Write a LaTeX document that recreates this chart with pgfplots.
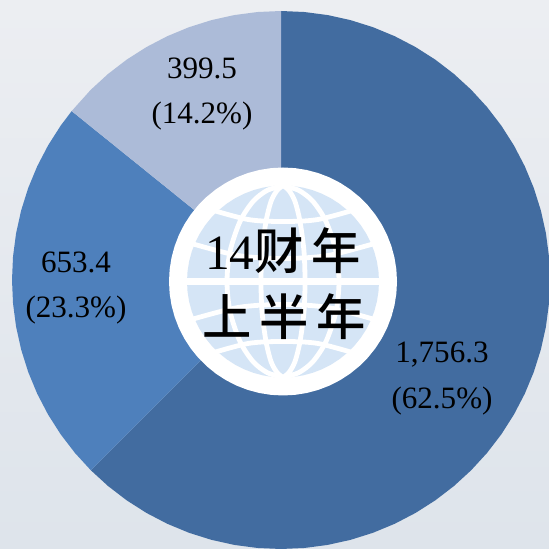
\documentclass[border=0pt]{standalone}
\usepackage{pgfplots}
\pgfplotsset{compat=1.18}
\usepackage{fontspec}
\setmainfont{Liberation Serif}
\newfontfamily\cjk{Noto Sans CJK SC}[BoldFont={Noto Sans CJK SC Medium}]
\definecolor{cDark}{HTML}{426CA0}
\definecolor{cMid}{HTML}{4E80BC}
\definecolor{cLight}{HTML}{ACBBD8}
\definecolor{cGlobe}{HTML}{D5E5F6}
\definecolor{bgTop}{HTML}{ECEEF2}
\definecolor{bgBot}{HTML}{DEE4EB}
\pgfplotsset{base/.style={width=411.75pt,height=411.75pt,scale only axis,hide axis,clip=true}}
\begin{document}
\begin{tikzpicture}
\begin{axis}[base,at={(0,0)},anchor=south west,xmin=-281,xmax=268,ymin=-269,ymax=280]
% background
\addplot[draw=none,top color=bgTop,bottom color=bgBot] coordinates {(-281,-269)(268,-269)(268,280)(-281,280)} -- cycle;
% 1,756.3 (62.5%)
\addplot[data cs=polar,draw=none,fill=cDark] coordinates {(0,0)(90,269)(85,269)(80,269)(75,269)(70,269)(65,269)(60,269)(55,269)(50,269)(45,269)(40,269)(35,269)(30,269)(25,269)(20,269)(15,269)(10,269)(5,269)(0,269)(-5,269)(-10,269)(-15,269)(-20,269)(-25,269)(-30,269)(-35,269)(-40,269)(-45,269)(-50,269)(-55,269)(-60,269)(-65,269)(-70,269)(-75,269)(-80,269)(-85,269)(-90,269)(-95,269)(-100,269)(-105,269)(-110,269)(-115,269)(-120,269)(-125,269)(-130,269)(-135,269)} -- cycle;
% 653.4 (23.3%)
\addplot[data cs=polar,draw=none,fill=cMid] coordinates {(0,0)(-135,269)(-140,269)(-145,269)(-150,269)(-155,269)(-160,269)(-165,269)(-170,269)(-175,269)(-180,269)(-185,269)(-190,269)(-195,269)(-200,269)(-205,269)(-210,269)(-215,269)(-218.9,269)} -- cycle;
% 399.5 (14.2%)
\addplot[data cs=polar,draw=none,fill=cLight] coordinates {(0,0)(-218.9,269)(-225,269)(-230,269)(-235,269)(-240,269)(-245,269)(-250,269)(-255,269)(-260,269)(-265,269)(-270,269)} -- cycle;
\end{axis}
\begin{axis}[base,at={(0,0)},anchor=south west,xmin=-283,xmax=266,ymin=-267.5,ymax=281.5]
\addplot[data cs=polar,draw=none,fill=white] coordinates {(0,114)(6,114)(12,114)(18,114)(24,114)(30,114)(36,114)(42,114)(48,114)(54,114)(60,114)(66,114)(72,114)(78,114)(84,114)(90,114)(96,114)(102,114)(108,114)(114,114)(120,114)(126,114)(132,114)(138,114)(144,114)(150,114)(156,114)(162,114)(168,114)(174,114)(180,114)(186,114)(192,114)(198,114)(204,114)(210,114)(216,114)(222,114)(228,114)(234,114)(240,114)(246,114)(252,114)(258,114)(264,114)(270,114)(276,114)(282,114)(288,114)(294,114)(300,114)(306,114)(312,114)(318,114)(324,114)(330,114)(336,114)(342,114)(348,114)(354,114)} -- cycle;
\addplot[data cs=polar,draw=none,fill=cGlobe] coordinates {(0,96)(6,96)(12,96)(18,96)(24,96)(30,96)(36,96)(42,96)(48,96)(54,96)(60,96)(66,96)(72,96)(78,96)(84,96)(90,96)(96,96)(102,96)(108,96)(114,96)(120,96)(126,96)(132,96)(138,96)(144,96)(150,96)(156,96)(162,96)(168,96)(174,96)(180,96)(186,96)(192,96)(198,96)(204,96)(210,96)(216,96)(222,96)(228,96)(234,96)(240,96)(246,96)(252,96)(258,96)(264,96)(270,96)(276,96)(282,96)(288,96)(294,96)(300,96)(306,96)(312,96)(318,96)(324,96)(330,96)(336,96)(342,96)(348,96)(354,96)} -- cycle;
% meridians
\addplot[white,line width=3.6pt,smooth] coordinates {(0,96)(16,91)(30,80)(43,60)(53,30)(56,0)(53,-30)(43,-60)(30,-80)(16,-91)(0,-96)};
\addplot[white,line width=3.6pt,smooth] coordinates {(0,96)(-16,91)(-30,80)(-43,60)(-53,30)(-56,0)(-53,-30)(-43,-60)(-30,-80)(-16,-91)(0,-96)};
\addplot[white,line width=3.6pt,smooth] coordinates {(0,96)(6,91)(12,80)(17,60)(21,30)(22,0)(21,-30)(17,-60)(12,-80)(6,-91)(0,-96)};
\addplot[white,line width=3.6pt,smooth] coordinates {(0,96)(-6,91)(-12,80)(-17,60)(-21,30)(-22,0)(-21,-30)(-17,-60)(-12,-80)(-6,-91)(0,-96)};
% parallels
\addplot[white,line width=4.8pt] coordinates {(-100,0)(100,0)};
\addplot[white,line width=3.6pt,smooth] coordinates {(-76,73)(-35,62)(0,60)(35,62)(76,73)};
\addplot[white,line width=3.6pt,smooth] coordinates {(-76,-73)(-35,-62)(0,-60)(35,-62)(76,-73)};
\addplot[white,line width=3.6pt,smooth] coordinates {(-95,39)(-45,26)(0,23)(45,26)(95,39)};
\addplot[white,line width=3.6pt,smooth] coordinates {(-95,-39)(-45,-26)(0,-23)(45,-26)(95,-39)};
\end{axis}
\begin{axis}[base,at={(0,0)},anchor=south west,xmin=0,xmax=549,ymin=0,ymax=549,y dir=reverse]
\node[font=\fontsize{23.3}{24}\selectfont] at (axis cs:202,68) {399.5};
\node[font=\fontsize{23.3}{24}\selectfont] at (axis cs:202,116) {(14.2\%)};
\node[font=\fontsize{23.3}{24}\selectfont] at (axis cs:76,262) {653.4};
\node[font=\fontsize{23.3}{24}\selectfont] at (axis cs:76,310) {(23.3\%)};
\node[font=\fontsize{23.3}{24}\selectfont] at (axis cs:442,355) {1,756.3};
\node[font=\fontsize{23.3}{24}\selectfont] at (axis cs:442,401) {(62.5\%)};
\node[font=\fontsize{37}{38}\selectfont,inner sep=0pt] at (axis cs:283,251) {14{\cjk\bfseries\fontsize{37}{38}\selectfont 财\hspace{6pt}年}};
\node[font=\fontsize{37}{38}\selectfont\cjk\bfseries,inner sep=0pt] at (axis cs:284,317) {上\hspace{6pt}半\hspace{6pt}年};
\end{axis}
\end{tikzpicture}
\end{document}
